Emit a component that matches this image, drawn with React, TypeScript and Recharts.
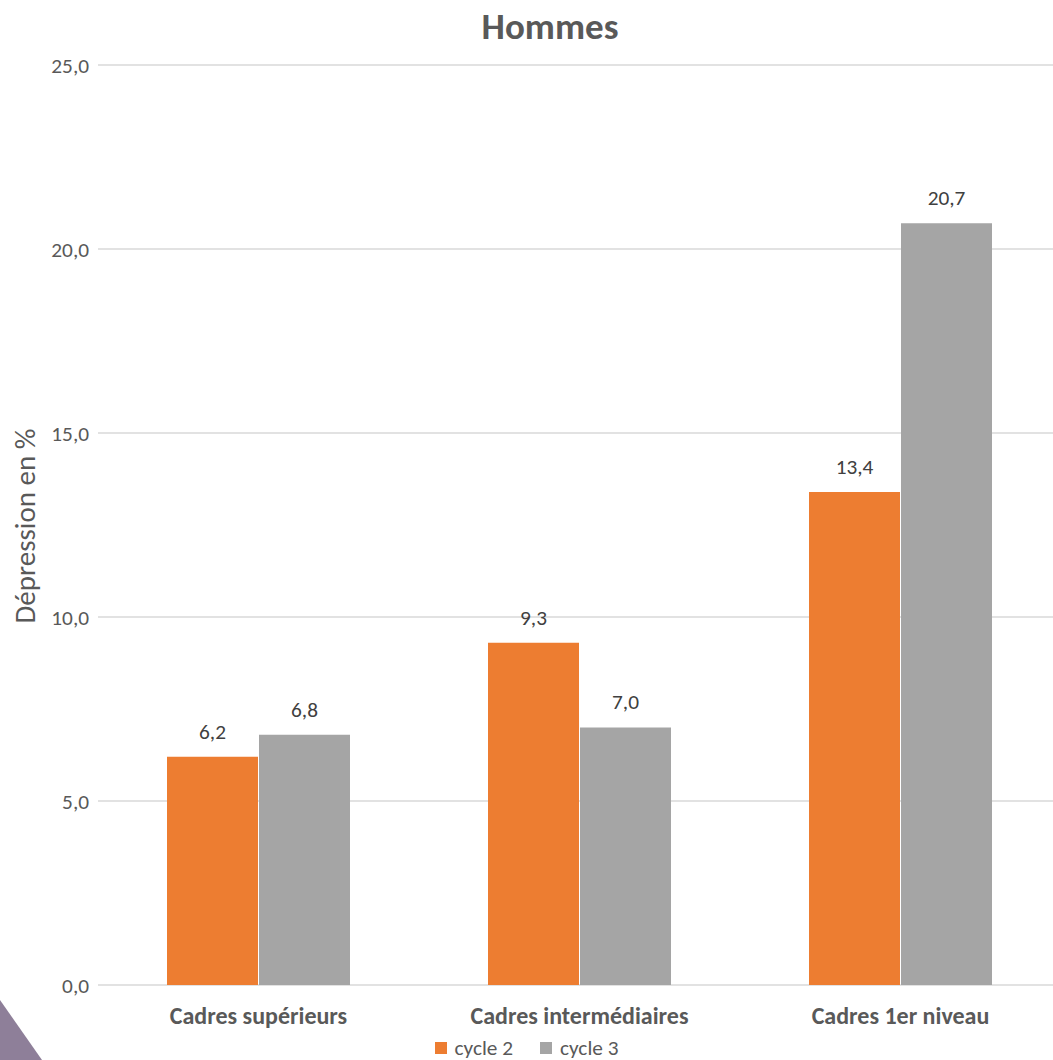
import { BarChart, Bar, XAxis, YAxis, CartesianGrid, LabelList } from 'recharts';

const categories = ['Cadres supérieurs', 'Cadres intermédiaires', 'Cadres 1er niveau'];
const cycle2 = [6.2, 9.3, 13.4];
const cycle3 = [6.8, 7.0, 20.7];
const yTicks = [0, 5, 10, 15, 20, 25];

const seriesNames = ['cycle 2', 'cycle 3'];
const seriesColors = ['#ed7d31', '#a5a5a5'];

const FONT = "Carlito, Lato, sans-serif";

const fmt = (v: number) => v.toFixed(1).replace('.', ',');

const data = categories.map((name, i) => ({ name, c2: cycle2[i], c3: cycle3[i] }));

export default function App() {
  return (
    <div
      style={{
        position: 'absolute',
        top: 0,
        left: 0,
        width: 1053,
        height: 1060,
        overflow: 'hidden',
        background: '#fff',
        fontFamily: FONT,
      }}
    >
      <div
        style={{
          position: 'absolute',
          top: 4,
          left: 0,
          width: 1100,
          textAlign: 'center',
          fontSize: 37,
          fontWeight: 700,
          color: '#595959',
          lineHeight: '46px',
        }}
      >
        Hommes
      </div>

      <BarChart
        width={1070}
        height={1060}
        data={data}
        margin={{ top: 65, right: 9, left: 0, bottom: 35 }}
        barCategoryGap={69}
        barGap={1}
      >
        <CartesianGrid vertical={false} stroke="#d9d9d9" strokeWidth={1.5} />
        <XAxis
          dataKey="name"
          axisLine={false}
          tickLine={false}
          height={40}
          tickMargin={16}
          interval={0}
          tick={{ fill: '#595959', fontSize: 24, fontWeight: 700, fontFamily: FONT }}
        />
        <YAxis
          width={98}
          domain={[0, 25]}
          ticks={yTicks}
          axisLine={false}
          tickLine={false}
          tickMargin={3}
          tickFormatter={fmt}
          tick={{ fill: '#595959', fontSize: 21.3, fontFamily: FONT }}
          label={{
            content: () => (
              <text
                x={25}
                y={526}
                transform="rotate(-90, 25, 526)"
                textAnchor="middle"
                dominantBaseline="central"
                fill="#595959"
                fontSize={29}
                fontFamily={FONT}
              >
                Dépression en %
              </text>
            ),
          }}
        />
        <Bar dataKey="c2" name={seriesNames[0]} fill={seriesColors[0]} isAnimationActive={false}>
          <LabelList
            dataKey="c2"
            position="top"
            offset={18}
            formatter={(v: any) => fmt(Number(v))}
            style={{ fill: '#404040', fontSize: 21.3, fontFamily: FONT }}
          />
        </Bar>
        <Bar dataKey="c3" name={seriesNames[1]} fill={seriesColors[1]} isAnimationActive={false}>
          <LabelList
            dataKey="c3"
            position="top"
            offset={18}
            formatter={(v: any) => fmt(Number(v))}
            style={{ fill: '#404040', fontSize: 21.3, fontFamily: FONT }}
          />
        </Bar>
      </BarChart>

      {/* legend */}
      <div
        style={{
          position: 'absolute',
          top: 1034,
          left: 0,
          width: 1053,
          display: 'flex',
          justifyContent: 'center',
          gap: 27,
          fontSize: 21.3,
          color: '#595959',
          lineHeight: '28px',
        }}
      >
        {seriesNames.map((n, i) => (
          <div key={n} style={{ display: 'flex', alignItems: 'center' }}>
            <span
              style={{
                display: 'inline-block',
                width: 12,
                height: 12,
                background: seriesColors[i],
                marginRight: 8,
              }}
            />
            {n}
          </div>
        ))}
      </div>

      {/* slide decoration */}
      <svg style={{ position: 'absolute', left: 0, top: 995 }} width={50} height={65}>
        <polygon points="0,5 42,65 0,65" fill="#8e7f99" />
      </svg>
    </div>
  );
}
